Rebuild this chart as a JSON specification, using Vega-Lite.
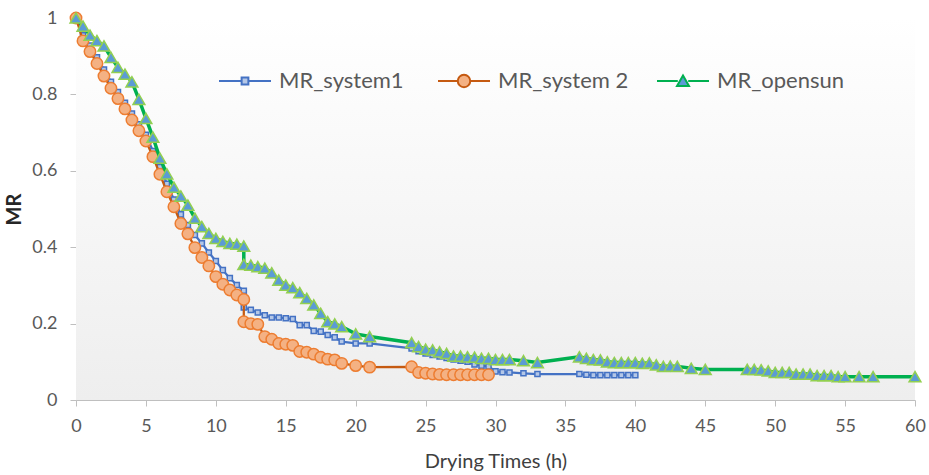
{
  "$schema": "https://vega.github.io/schema/vega-lite/v6.json",
  "width": 839,
  "height": 382,
  "autosize": {"type": "none"},
  "padding": {"left": 76, "top": 18, "right": 14, "bottom": 75},
  "background": "white",
  "config": {
    "view": {"stroke": null},
    "font": "Lato",
    "axis": {
      "grid": false,
      "domainColor": "#bfbfbf",
      "domainWidth": 1,
      "tickColor": "#bfbfbf",
      "tickSize": 6,
      "labelFlush": false,
      "labelFont": "Lato",
      "labelFontSize": 18,
      "labelColor": "#595959",
      "titleFont": "Lato",
      "titleFontSize": 20,
      "titleColor": "#404040"
    },
    "legend": {
      "orient": "none",
      "legendX": 142,
      "legendY": 36,
      "direction": "horizontal",
      "columns": 3,
      "gridAlign": "all",
      "columnPadding": 24,
      "padding": 0,
      "symbolSize": 2704,
      "symbolStrokeWidth": 2,
      "labelFont": "Lato",
      "labelFontSize": 22,
      "labelColor": "#595959",
      "labelOffset": 7,
      "labelLimit": 300
    }
  },
  "data": {
    "values": [
      {"series": "MR_system1", "t": 0, "mr": 1.0},
      {"series": "MR_system1", "t": 0.5, "mr": 0.955},
      {"series": "MR_system1", "t": 1, "mr": 0.928},
      {"series": "MR_system1", "t": 1.5, "mr": 0.897},
      {"series": "MR_system1", "t": 2, "mr": 0.865},
      {"series": "MR_system1", "t": 2.5, "mr": 0.833},
      {"series": "MR_system1", "t": 3, "mr": 0.806},
      {"series": "MR_system1", "t": 3.5, "mr": 0.778},
      {"series": "MR_system1", "t": 4, "mr": 0.75},
      {"series": "MR_system1", "t": 4.5, "mr": 0.722},
      {"series": "MR_system1", "t": 5, "mr": 0.694},
      {"series": "MR_system1", "t": 5.5, "mr": 0.652},
      {"series": "MR_system1", "t": 6, "mr": 0.61},
      {"series": "MR_system1", "t": 6.5, "mr": 0.566},
      {"series": "MR_system1", "t": 7, "mr": 0.525},
      {"series": "MR_system1", "t": 7.5, "mr": 0.486},
      {"series": "MR_system1", "t": 8, "mr": 0.458},
      {"series": "MR_system1", "t": 8.5, "mr": 0.432},
      {"series": "MR_system1", "t": 9, "mr": 0.41},
      {"series": "MR_system1", "t": 9.5, "mr": 0.386},
      {"series": "MR_system1", "t": 10, "mr": 0.364},
      {"series": "MR_system1", "t": 10.5, "mr": 0.34},
      {"series": "MR_system1", "t": 11, "mr": 0.319},
      {"series": "MR_system1", "t": 11.5, "mr": 0.301},
      {"series": "MR_system1", "t": 12, "mr": 0.286},
      {"series": "MR_system1", "t": 12, "mr": 0.242},
      {"series": "MR_system1", "t": 12.5, "mr": 0.236},
      {"series": "MR_system1", "t": 13, "mr": 0.229},
      {"series": "MR_system1", "t": 13.5, "mr": 0.222},
      {"series": "MR_system1", "t": 14, "mr": 0.216},
      {"series": "MR_system1", "t": 14.5, "mr": 0.216},
      {"series": "MR_system1", "t": 15, "mr": 0.214},
      {"series": "MR_system1", "t": 15.5, "mr": 0.212},
      {"series": "MR_system1", "t": 16, "mr": 0.196},
      {"series": "MR_system1", "t": 16.5, "mr": 0.196},
      {"series": "MR_system1", "t": 17, "mr": 0.181},
      {"series": "MR_system1", "t": 17.5, "mr": 0.179},
      {"series": "MR_system1", "t": 18, "mr": 0.17},
      {"series": "MR_system1", "t": 18.5, "mr": 0.164},
      {"series": "MR_system1", "t": 19, "mr": 0.153},
      {"series": "MR_system1", "t": 20, "mr": 0.148},
      {"series": "MR_system1", "t": 21, "mr": 0.148},
      {"series": "MR_system1", "t": 24, "mr": 0.135},
      {"series": "MR_system1", "t": 24.5, "mr": 0.128},
      {"series": "MR_system1", "t": 25, "mr": 0.122},
      {"series": "MR_system1", "t": 25.5, "mr": 0.118},
      {"series": "MR_system1", "t": 26, "mr": 0.114},
      {"series": "MR_system1", "t": 26.5, "mr": 0.11},
      {"series": "MR_system1", "t": 27, "mr": 0.106},
      {"series": "MR_system1", "t": 27.5, "mr": 0.103},
      {"series": "MR_system1", "t": 28, "mr": 0.1},
      {"series": "MR_system1", "t": 28.5, "mr": 0.093},
      {"series": "MR_system1", "t": 29, "mr": 0.09},
      {"series": "MR_system1", "t": 29.5, "mr": 0.088},
      {"series": "MR_system1", "t": 30, "mr": 0.075},
      {"series": "MR_system1", "t": 30.5, "mr": 0.073},
      {"series": "MR_system1", "t": 31, "mr": 0.072},
      {"series": "MR_system1", "t": 32, "mr": 0.07},
      {"series": "MR_system1", "t": 33, "mr": 0.068},
      {"series": "MR_system1", "t": 36, "mr": 0.068},
      {"series": "MR_system1", "t": 36.5, "mr": 0.066},
      {"series": "MR_system1", "t": 37, "mr": 0.065},
      {"series": "MR_system1", "t": 37.5, "mr": 0.065},
      {"series": "MR_system1", "t": 38, "mr": 0.065},
      {"series": "MR_system1", "t": 38.5, "mr": 0.065},
      {"series": "MR_system1", "t": 39, "mr": 0.065},
      {"series": "MR_system1", "t": 39.5, "mr": 0.065},
      {"series": "MR_system1", "t": 40, "mr": 0.065},

      {"series": "MR_system 2", "t": 0, "mr": 1.0},
      {"series": "MR_system 2", "t": 0.5, "mr": 0.94},
      {"series": "MR_system 2", "t": 1, "mr": 0.912},
      {"series": "MR_system 2", "t": 1.5, "mr": 0.881},
      {"series": "MR_system 2", "t": 2, "mr": 0.848},
      {"series": "MR_system 2", "t": 2.5, "mr": 0.816},
      {"series": "MR_system 2", "t": 3, "mr": 0.789},
      {"series": "MR_system 2", "t": 3.5, "mr": 0.762},
      {"series": "MR_system 2", "t": 4, "mr": 0.733},
      {"series": "MR_system 2", "t": 4.5, "mr": 0.705},
      {"series": "MR_system 2", "t": 5, "mr": 0.678},
      {"series": "MR_system 2", "t": 5.5, "mr": 0.637},
      {"series": "MR_system 2", "t": 6, "mr": 0.591},
      {"series": "MR_system 2", "t": 6.5, "mr": 0.545},
      {"series": "MR_system 2", "t": 7, "mr": 0.506},
      {"series": "MR_system 2", "t": 7.5, "mr": 0.462},
      {"series": "MR_system 2", "t": 8, "mr": 0.435},
      {"series": "MR_system 2", "t": 8.5, "mr": 0.399},
      {"series": "MR_system 2", "t": 9, "mr": 0.373},
      {"series": "MR_system 2", "t": 9.5, "mr": 0.351},
      {"series": "MR_system 2", "t": 10, "mr": 0.323},
      {"series": "MR_system 2", "t": 10.5, "mr": 0.303},
      {"series": "MR_system 2", "t": 11, "mr": 0.288},
      {"series": "MR_system 2", "t": 11.5, "mr": 0.275},
      {"series": "MR_system 2", "t": 12, "mr": 0.263},
      {"series": "MR_system 2", "t": 12, "mr": 0.205},
      {"series": "MR_system 2", "t": 12.5, "mr": 0.2},
      {"series": "MR_system 2", "t": 13, "mr": 0.198},
      {"series": "MR_system 2", "t": 13.5, "mr": 0.166},
      {"series": "MR_system 2", "t": 14, "mr": 0.159},
      {"series": "MR_system 2", "t": 14.5, "mr": 0.148},
      {"series": "MR_system 2", "t": 15, "mr": 0.146},
      {"series": "MR_system 2", "t": 15.5, "mr": 0.143},
      {"series": "MR_system 2", "t": 16, "mr": 0.127},
      {"series": "MR_system 2", "t": 16.5, "mr": 0.125},
      {"series": "MR_system 2", "t": 17, "mr": 0.12},
      {"series": "MR_system 2", "t": 17.5, "mr": 0.112},
      {"series": "MR_system 2", "t": 18, "mr": 0.107},
      {"series": "MR_system 2", "t": 18.5, "mr": 0.105},
      {"series": "MR_system 2", "t": 19, "mr": 0.096},
      {"series": "MR_system 2", "t": 20, "mr": 0.09},
      {"series": "MR_system 2", "t": 21, "mr": 0.086},
      {"series": "MR_system 2", "t": 24, "mr": 0.087},
      {"series": "MR_system 2", "t": 24.5, "mr": 0.072},
      {"series": "MR_system 2", "t": 25, "mr": 0.07},
      {"series": "MR_system 2", "t": 25.5, "mr": 0.068},
      {"series": "MR_system 2", "t": 26, "mr": 0.067},
      {"series": "MR_system 2", "t": 26.5, "mr": 0.066},
      {"series": "MR_system 2", "t": 27, "mr": 0.066},
      {"series": "MR_system 2", "t": 27.5, "mr": 0.066},
      {"series": "MR_system 2", "t": 28, "mr": 0.066},
      {"series": "MR_system 2", "t": 28.5, "mr": 0.066},
      {"series": "MR_system 2", "t": 29, "mr": 0.066},
      {"series": "MR_system 2", "t": 29.5, "mr": 0.066},

      {"series": "MR_opensun", "t": 0, "mr": 1.0},
      {"series": "MR_opensun", "t": 0.5, "mr": 0.979},
      {"series": "MR_opensun", "t": 1, "mr": 0.955},
      {"series": "MR_opensun", "t": 1.5, "mr": 0.941},
      {"series": "MR_opensun", "t": 2, "mr": 0.927},
      {"series": "MR_opensun", "t": 2.5, "mr": 0.897},
      {"series": "MR_opensun", "t": 3, "mr": 0.871},
      {"series": "MR_opensun", "t": 3.5, "mr": 0.853},
      {"series": "MR_opensun", "t": 4, "mr": 0.833},
      {"series": "MR_opensun", "t": 4.5, "mr": 0.787},
      {"series": "MR_opensun", "t": 5, "mr": 0.737},
      {"series": "MR_opensun", "t": 5.5, "mr": 0.688},
      {"series": "MR_opensun", "t": 6, "mr": 0.633},
      {"series": "MR_opensun", "t": 6.5, "mr": 0.592},
      {"series": "MR_opensun", "t": 7, "mr": 0.557},
      {"series": "MR_opensun", "t": 7.5, "mr": 0.534},
      {"series": "MR_opensun", "t": 8, "mr": 0.51},
      {"series": "MR_opensun", "t": 8.5, "mr": 0.476},
      {"series": "MR_opensun", "t": 9, "mr": 0.454},
      {"series": "MR_opensun", "t": 9.5, "mr": 0.436},
      {"series": "MR_opensun", "t": 10, "mr": 0.423},
      {"series": "MR_opensun", "t": 10.5, "mr": 0.415},
      {"series": "MR_opensun", "t": 11, "mr": 0.41},
      {"series": "MR_opensun", "t": 11.5, "mr": 0.408},
      {"series": "MR_opensun", "t": 12, "mr": 0.403},
      {"series": "MR_opensun", "t": 12, "mr": 0.355},
      {"series": "MR_opensun", "t": 12.5, "mr": 0.353},
      {"series": "MR_opensun", "t": 13, "mr": 0.349},
      {"series": "MR_opensun", "t": 13.5, "mr": 0.345},
      {"series": "MR_opensun", "t": 14, "mr": 0.333},
      {"series": "MR_opensun", "t": 14.5, "mr": 0.314},
      {"series": "MR_opensun", "t": 15, "mr": 0.301},
      {"series": "MR_opensun", "t": 15.5, "mr": 0.294},
      {"series": "MR_opensun", "t": 16, "mr": 0.281},
      {"series": "MR_opensun", "t": 16.5, "mr": 0.266},
      {"series": "MR_opensun", "t": 17, "mr": 0.249},
      {"series": "MR_opensun", "t": 17.5, "mr": 0.227},
      {"series": "MR_opensun", "t": 18, "mr": 0.205},
      {"series": "MR_opensun", "t": 18.5, "mr": 0.199},
      {"series": "MR_opensun", "t": 19, "mr": 0.192},
      {"series": "MR_opensun", "t": 20, "mr": 0.173},
      {"series": "MR_opensun", "t": 21, "mr": 0.166},
      {"series": "MR_opensun", "t": 24, "mr": 0.15},
      {"series": "MR_opensun", "t": 24.5, "mr": 0.14},
      {"series": "MR_opensun", "t": 25, "mr": 0.133},
      {"series": "MR_opensun", "t": 25.5, "mr": 0.131},
      {"series": "MR_opensun", "t": 26, "mr": 0.126},
      {"series": "MR_opensun", "t": 26.5, "mr": 0.122},
      {"series": "MR_opensun", "t": 27, "mr": 0.115},
      {"series": "MR_opensun", "t": 27.5, "mr": 0.115},
      {"series": "MR_opensun", "t": 28, "mr": 0.113},
      {"series": "MR_opensun", "t": 28.5, "mr": 0.112},
      {"series": "MR_opensun", "t": 29, "mr": 0.109},
      {"series": "MR_opensun", "t": 29.5, "mr": 0.109},
      {"series": "MR_opensun", "t": 30, "mr": 0.106},
      {"series": "MR_opensun", "t": 30.5, "mr": 0.106},
      {"series": "MR_opensun", "t": 31, "mr": 0.106},
      {"series": "MR_opensun", "t": 32, "mr": 0.103},
      {"series": "MR_opensun", "t": 33, "mr": 0.098},
      {"series": "MR_opensun", "t": 36, "mr": 0.113},
      {"series": "MR_opensun", "t": 36.5, "mr": 0.109},
      {"series": "MR_opensun", "t": 37, "mr": 0.106},
      {"series": "MR_opensun", "t": 37.5, "mr": 0.105},
      {"series": "MR_opensun", "t": 38, "mr": 0.1},
      {"series": "MR_opensun", "t": 38.5, "mr": 0.098},
      {"series": "MR_opensun", "t": 39, "mr": 0.098},
      {"series": "MR_opensun", "t": 39.5, "mr": 0.098},
      {"series": "MR_opensun", "t": 40, "mr": 0.098},
      {"series": "MR_opensun", "t": 40.5, "mr": 0.096},
      {"series": "MR_opensun", "t": 41, "mr": 0.097},
      {"series": "MR_opensun", "t": 41.5, "mr": 0.092},
      {"series": "MR_opensun", "t": 42, "mr": 0.088},
      {"series": "MR_opensun", "t": 42.5, "mr": 0.089},
      {"series": "MR_opensun", "t": 43, "mr": 0.088},
      {"series": "MR_opensun", "t": 44, "mr": 0.083},
      {"series": "MR_opensun", "t": 45, "mr": 0.08},
      {"series": "MR_opensun", "t": 48, "mr": 0.08},
      {"series": "MR_opensun", "t": 48.5, "mr": 0.08},
      {"series": "MR_opensun", "t": 49, "mr": 0.079},
      {"series": "MR_opensun", "t": 49.5, "mr": 0.076},
      {"series": "MR_opensun", "t": 50, "mr": 0.072},
      {"series": "MR_opensun", "t": 50.5, "mr": 0.072},
      {"series": "MR_opensun", "t": 51, "mr": 0.072},
      {"series": "MR_opensun", "t": 51.5, "mr": 0.068},
      {"series": "MR_opensun", "t": 52, "mr": 0.068},
      {"series": "MR_opensun", "t": 52.5, "mr": 0.068},
      {"series": "MR_opensun", "t": 53, "mr": 0.064},
      {"series": "MR_opensun", "t": 53.5, "mr": 0.064},
      {"series": "MR_opensun", "t": 54, "mr": 0.064},
      {"series": "MR_opensun", "t": 54.5, "mr": 0.061},
      {"series": "MR_opensun", "t": 55, "mr": 0.061},
      {"series": "MR_opensun", "t": 56, "mr": 0.061},
      {"series": "MR_opensun", "t": 57, "mr": 0.061},
      {"series": "MR_opensun", "t": 60, "mr": 0.061}
    ]
  },
  "encoding": {
    "x": {
      "field": "t", "type": "quantitative",
      "scale": {"domain": [0, 60], "nice": false, "zero": false},
      "axis": {"values": [0, 5, 10, 15, 20, 25, 30, 35, 40, 45, 50, 55, 60], "title": "Drying Times (h)", "labelPadding": 11, "titlePadding": 16, "titleFontWeight": "normal"}
    },
    "y": {
      "field": "mr", "type": "quantitative",
      "scale": {"domain": [0, 1], "nice": false},
      "axis": {"values": [0, 0.2, 0.4, 0.6, 0.8, 1], "format": ".1~f", "title": "MR", "labelPadding": 13, "titlePadding": 7, "titleFontWeight": "bold", "titleColor": "#262626"}
    }
  },
  "layer": [
    {
      "data": {"values": [{"x0": 0, "x1": 60, "y0": 0, "y1": 1}]},
      "mark": {"type": "rect", "fill": {"gradient": "linear", "x1": 0, "y1": 0, "x2": 0, "y2": 1, "stops": [{"offset": 0, "color": "#ffffff"}, {"offset": 1, "color": "#eeeeee"}]}},
      "encoding": {
        "x": {"field": "x0", "type": "quantitative"},
        "x2": {"field": "x1"},
        "y": {"field": "y0", "type": "quantitative"},
        "y2": {"field": "y1"}
      }
    },
    {
      "transform": [{"filter": "datum.series === 'MR_system1'"}],
      "mark": {"type": "line", "stroke": "#4472c4", "strokeWidth": 2.25},
      "encoding": {}
    },
    {
      "transform": [{"filter": "datum.series === 'MR_system1'"}],
      "mark": {"type": "point", "shape": "square", "filled": true, "fill": "#b4c7e7", "stroke": "#4472c4", "strokeWidth": 1.5, "size": 26, "opacity": 1},
      "encoding": {}
    },
    {
      "transform": [{"filter": "datum.series === 'MR_system 2'"}],
      "mark": {"type": "line", "stroke": "#c55a11", "strokeWidth": 2.25},
      "encoding": {}
    },
    {
      "transform": [{"filter": "datum.series === 'MR_system 2'"}],
      "mark": {"type": "point", "shape": "circle", "filled": true, "fill": "#f4b183", "stroke": "#ed7d31", "strokeWidth": 1.5, "size": 130, "opacity": 1},
      "encoding": {}
    },
    {
      "transform": [{"filter": "datum.series === 'MR_opensun'"}],
      "mark": {"type": "line", "stroke": "#00b050", "strokeWidth": 3.5},
      "encoding": {}
    },
    {
      "transform": [{"filter": "datum.series === 'MR_opensun'"}],
      "mark": {"type": "point", "shape": "triangle-up", "filled": true, "fill": "#5b9bd5", "stroke": "#92d050", "strokeWidth": 1.5, "size": 140, "opacity": 1},
      "encoding": {}
    },
    {
      "transform": [{"filter": "datum.t < 0"}],
      "mark": {"type": "point", "filled": true, "strokeWidth": 2, "opacity": 1},
      "encoding": {
        "shape": {
          "field": "series", "type": "nominal", "title": null,
          "scale": {"domain": ["MR_system1", "MR_system 2", "MR_opensun"],
                    "range": [
                      "M-1,0L-0.13,0M-0.13,-0.13L0.13,-0.13L0.13,0.13L-0.13,0.13ZM0.13,0L1,0",
                      "M-1,0L-0.24,0M-0.24,0A0.24,0.24,0,1,1,0.24,0A0.24,0.24,0,1,1,-0.24,0ZM0.24,0L1,0",
                      "M-1,0L-0.2,0M0,-0.21L0.23,0.19L-0.23,0.19ZM0.2,0L1,0"
                    ]}
        },
        "stroke": {
          "field": "series", "type": "nominal", "title": null,
          "scale": {"domain": ["MR_system1", "MR_system 2", "MR_opensun"], "range": ["#4472c4", "#c55a11", "#00b050"]}
        },
        "fill": {
          "field": "series", "type": "nominal", "title": null,
          "scale": {"domain": ["MR_system1", "MR_system 2", "MR_opensun"], "range": ["#b4c7e7", "#f4b183", "#5b9bd5"]}
        }
      }
    }
  ]
}
